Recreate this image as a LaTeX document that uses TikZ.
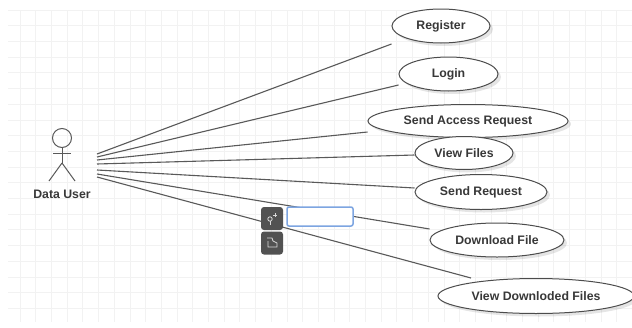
\documentclass[tikz,border=0pt]{standalone}
\usepackage{fontspec}
\setmainfont{Liberation Sans}
\usetikzlibrary{shadows,shapes.geometric}

\definecolor{boxblue}{RGB}{125,165,225}

\tikzset{
    usecase/.style={draw=black!70, line width=1pt, ellipse, fill=white, inner sep=0pt,
        font=\bfseries\fontsize{12.3}{14}\selectfont, text=black!78,
        drop shadow={shadow xshift=3pt, shadow yshift=-3pt, fill=black, opacity=0.1}},
    assoc/.style={draw=black!65, line width=1.1pt},
    stickman/.style={draw=black!65, line width=1pt},
    toolbtn/.style={draw=none, fill=black!68, rounded corners=3pt, minimum width=22pt, minimum height=23pt, inner sep=0pt},
    gridline/.style={draw=black!5, line width=0.8pt}
}

\begin{document}
\begin{tikzpicture}[x=1pt,y=-1pt]
        \useasboundingbox (0,0) rectangle (632,327);
        \fill[white] (0,0) rectangle (632,327);

        % grid
        \foreach \i in {20,35.7,...,632} \draw[gridline] (\i,10) -- (\i,322);
        \foreach \j in {10,25.7,...,323} \draw[gridline] (8,\j) -- (632,\j);

        % actor
        \draw[stickman] (62,138) circle (9.5);
        \draw[stickman] (62,147.5) -- (62,163);
        \draw[stickman] (53,153) -- (71,153);
        \draw[stickman] (62,163) -- (49,181);
        \draw[stickman] (62,163) -- (75,181);
        \node[font=\bfseries\fontsize{12.3}{14}\selectfont, text=black!78] (datauser) at (62,194) {Data User};

        \coordinate (user1) at (97,154);
        \coordinate (user2) at (97,157);
        \coordinate (user3) at (97,160);
        \coordinate (user4) at (97,164);
        \coordinate (user5) at (97,170);
        \coordinate (user6) at (97,174);
        \coordinate (user7) at (97,177);

        % use cases
        \node[usecase, minimum width=98pt, minimum height=34pt] (register) at (441,26) {Register};
        \node[usecase, minimum width=99pt, minimum height=34pt] (login) at (448.5,74) {Login};
        \node[usecase, minimum width=200pt, minimum height=33pt] (sendaccess) at (468,121) {Send Access Request};
        \node[usecase, minimum width=98pt, minimum height=33pt] (viewfiles) at (464,153) {View Files};
        \node[usecase, minimum width=132pt, minimum height=35pt] (sendrequest) at (481,192) {Send Request};
        \node[usecase, minimum width=134pt, minimum height=34pt] (downloadfile) at (497,240) {Download File};
        \node[usecase, minimum width=196pt, minimum height=35pt] (viewdownloaded) at (536,296) {View Downloded Files};

        \draw[assoc] (user1) -- ([yshift=-18pt]register.west);
        \draw[assoc] (user2) -- ([yshift=-11pt]login.west);
        \draw[assoc] (user3) -- ([yshift=-11pt]sendaccess.west);
        \draw[assoc] (user4) -- ([yshift=-2pt]viewfiles.west);
        \draw[assoc] (user5) -- ([yshift=4pt]sendrequest.west);
        \draw[assoc] (user6) -- ([yshift=11pt]downloadfile.west);
        \draw[assoc] (user7) -- ([xshift=-65pt]viewdownloaded.north);

        % editing box
        \node[draw=boxblue, line width=1.5pt, fill=white, rounded corners=2pt, minimum width=66pt, minimum height=19pt, inner sep=0pt] (labelbox) at (320,216.5) {};
        \node[toolbtn] (btnactor) at (272,218.5) {};
        \node[toolbtn] (btnnote) at (272,243) {};

        \draw[white!85!black, line width=0.8pt] (270,219) circle (2.2);
        \draw[white!85!black, line width=0.8pt] (270,221) -- (270,225);
        \draw[white!85!black, line width=0.8pt] (275,213) -- (275,217) (273,215) -- (277,215);
        \draw[white!85!black, line width=0.8pt] (267,238) -- (272,238) -- (273,241) -- (277,243) -- (277,247) -- (268,247) -- (268,241);
\end{tikzpicture}
\end{document}
